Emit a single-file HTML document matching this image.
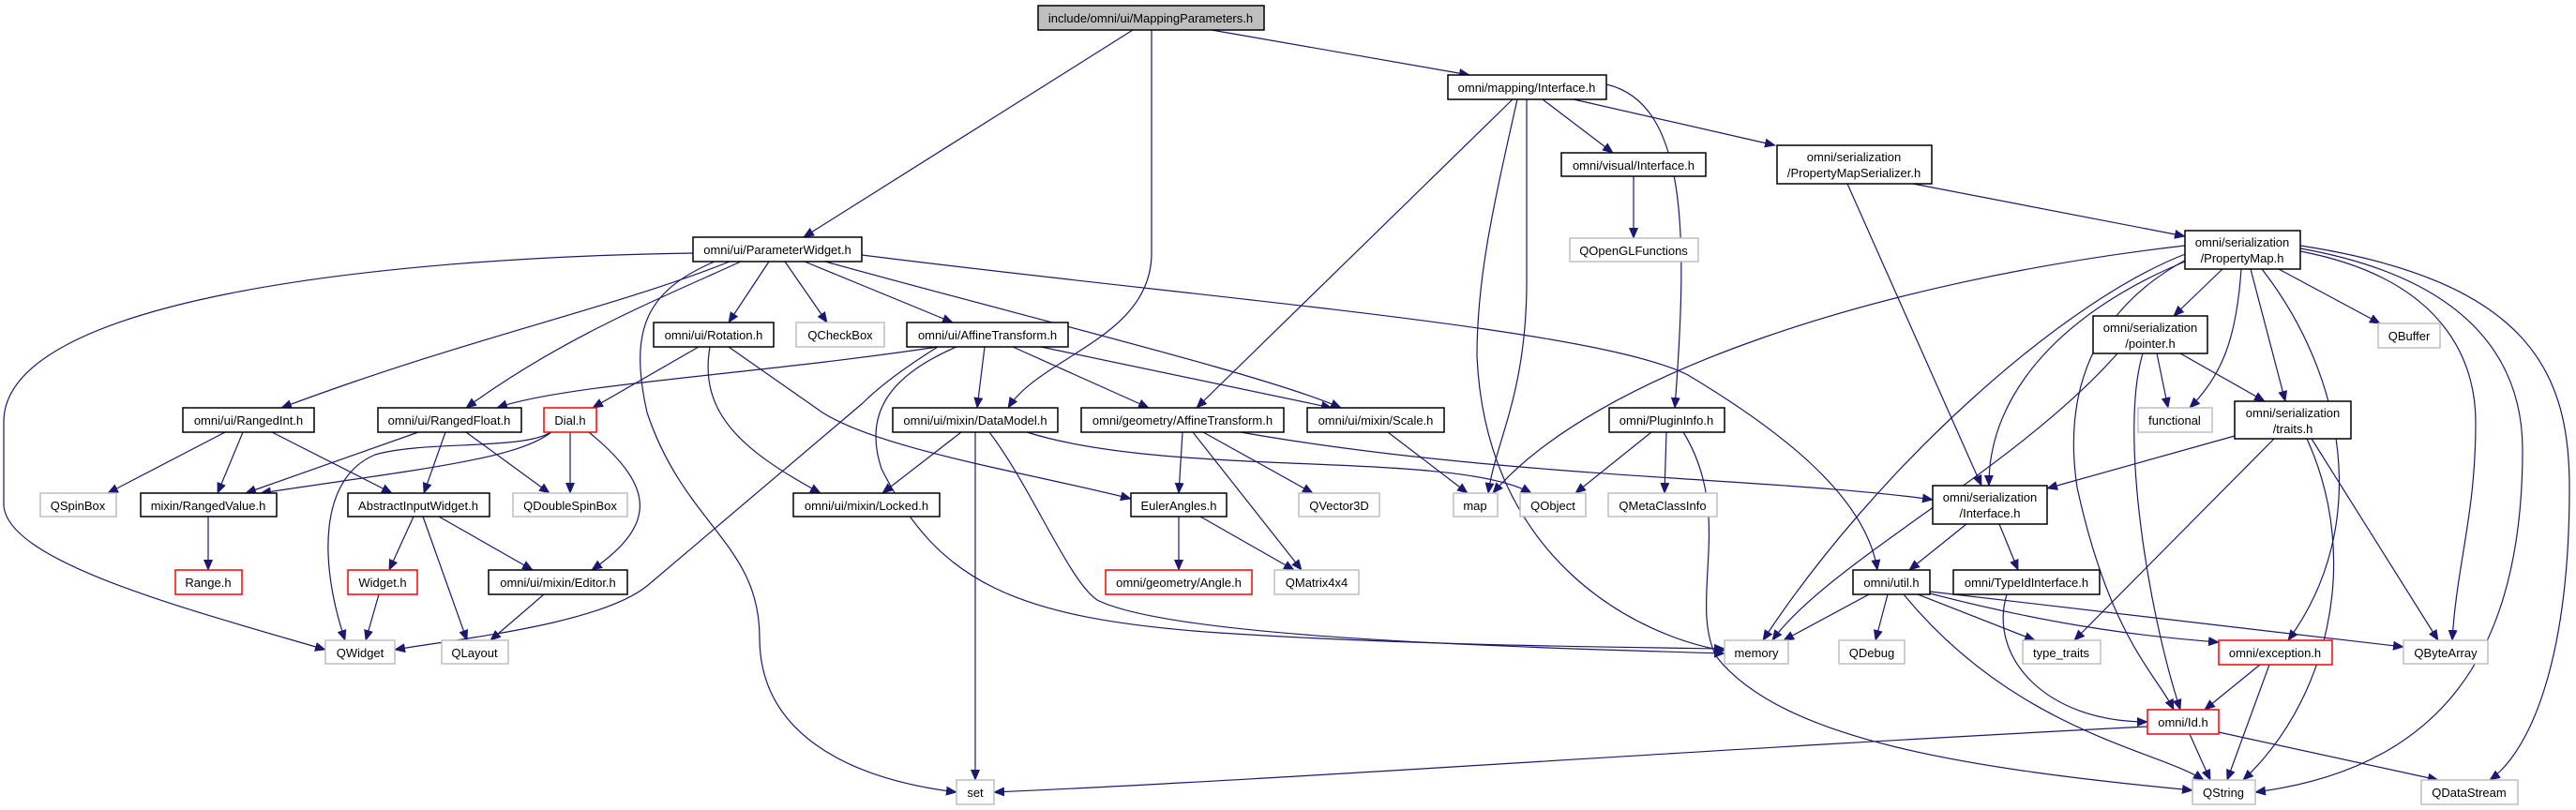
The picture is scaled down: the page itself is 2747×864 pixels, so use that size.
<!DOCTYPE html>
<html><head><meta charset="utf-8"><style>
html,body{margin:0;padding:0;background:#fff;}
svg{display:block;}
text{font-family:"Liberation Sans",sans-serif;font-size:13px;fill:#000;}
.e{fill:none;stroke:#191970;stroke-width:1.2;marker-end:url(#a);}
.n{fill:#fff;stroke:#000;stroke-width:1.5;}
.g{fill:#fff;stroke:#bfbfbf;stroke-width:1.5;}
.r{fill:#fff;stroke:#ff0000;stroke-width:1.5;}
</style></head><body>
<svg width="2747" height="864" viewBox="0 0 2747 864" xmlns="http://www.w3.org/2000/svg">
<defs><marker id="a" markerUnits="userSpaceOnUse" markerWidth="12" markerHeight="10" refX="11" refY="5" orient="auto"><path d="M0,0 L12,5 L0,10 z" fill="#191970"/></marker></defs>
<g>
<path class="e" d="M1208,32 L857,253"/>
<path class="e" d="M1228,32 L1228,270 C1228,360 1110,380 1075,435"/>
<path class="e" d="M1292,32 L1567,80"/>
<path class="e" d="M1613,106 L1276,435"/>
<path class="e" d="M1628,106 L1628,300 C1628,420 1595,470 1587,526"/>
<path class="e" d="M1618,106 C1590,230 1575,300 1575,380 C1585,600 1750,680 1839,694"/>
<path class="e" d="M1645,106 L1720,163"/>
<path class="e" d="M1678,106 L1893,155"/>
<path class="e" d="M1713,90 C1800,110 1800,250 1786,435"/>
<path class="e" d="M1742,188 L1742,254"/>
<path class="e" d="M1970,196 L2113,518"/>
<path class="e" d="M2040,196 L2330,252"/>
<path class="e" d="M739,270 C400,275 4,320 4,450 L4,540 C10,600 200,650 347,693"/>
<path class="e" d="M778,279 C650,330 500,360 300,435"/>
<path class="e" d="M790,279 C700,320 600,360 497,435"/>
<path class="e" d="M762,279 C690,310 670,350 690,440 C730,560 810,580 810,680 C810,780 900,830 1020,845"/>
<path class="e" d="M820,279 L777,344"/>
<path class="e" d="M837,279 L882,344"/>
<path class="e" d="M858,279 L1016,344"/>
<path class="e" d="M880,279 C1100,340 1350,400 1430,435"/>
<path class="e" d="M919,272 C1300,320 1700,350 1800,400 C1900,460 1990,530 2002,608"/>
<path class="e" d="M745,370 L632,435"/>
<path class="e" d="M757,370 C745,440 790,480 875,526"/>
<path class="e" d="M777,370 L877,440 C940,480 1100,505 1206,532"/>
<path class="e" d="M1000,370 C800,400 600,410 530,435"/>
<path class="e" d="M1000,370 C960,395 935,415 920,430 L690,625 C640,665 500,680 421,693"/>
<path class="e" d="M1050,370 L1042,435"/>
<path class="e" d="M1080,370 L1225,435"/>
<path class="e" d="M1110,370 L1420,435"/>
<path class="e" d="M1020,370 C950,400 920,440 940,500 C1000,620 1080,660 1300,675 C1500,688 1700,690 1839,692"/>
<path class="e" d="M1055,461 C1100,520 1140,620 1170,640 C1250,680 1600,690 1839,697"/>
<path class="e" d="M240,461 L115,526"/>
<path class="e" d="M259,461 L232,526"/>
<path class="e" d="M290,461 L418,526"/>
<path class="e" d="M446,461 L262,526"/>
<path class="e" d="M475,461 L452,526"/>
<path class="e" d="M497,461 L586,526"/>
<path class="e" d="M587,461 C560,480 450,470 400,485 C340,510 340,600 368,683"/>
<path class="e" d="M588,461 C550,490 450,500 278,526"/>
<path class="e" d="M608,461 L608,526"/>
<path class="e" d="M628,461 C700,520 700,560 631,608"/>
<path class="e" d="M222,551 L222,608"/>
<path class="e" d="M441,551 L415,608"/>
<path class="e" d="M451,551 L498,683"/>
<path class="e" d="M468,551 L568,608"/>
<path class="e" d="M404,634 L390,683"/>
<path class="e" d="M580,634 L523,683"/>
<path class="e" d="M1025,461 L941,526"/>
<path class="e" d="M1040,461 L1040,832"/>
<path class="e" d="M1095,461 C1250,510 1550,480 1633,526"/>
<path class="e" d="M1261,461 L1257,526"/>
<path class="e" d="M1272,461 L1388,608"/>
<path class="e" d="M1283,461 L1400,526"/>
<path class="e" d="M1323,461 C1600,510 1900,510 2061,533"/>
<path class="e" d="M1257,551 L1257,608"/>
<path class="e" d="M1280,551 L1380,608"/>
<path class="e" d="M1480,461 L1565,526"/>
<path class="e" d="M1761,461 L1680,526"/>
<path class="e" d="M1777,461 L1775,526"/>
<path class="e" d="M1795,461 C1850,550 1800,640 1830,700 C1900,790 2100,820 2338,843"/>
<path class="e" d="M2330,262 C2000,300 1700,400 1592,526"/>
<path class="e" d="M2333,270 C2200,320 2000,500 1880,683"/>
<path class="e" d="M2340,275 C2200,330 2120,420 2121,518"/>
<path class="e" d="M2370,287 L2318,337"/>
<path class="e" d="M2390,287 C2385,360 2370,400 2335,435"/>
<path class="e" d="M2400,287 L2437,428"/>
<path class="e" d="M2412,287 C2500,400 2530,560 2440,683"/>
<path class="e" d="M2430,287 L2538,345"/>
<path class="e" d="M2453,268 C2620,300 2640,400 2640,450 C2640,550 2620,600 2615,683"/>
<path class="e" d="M2453,265 C2650,300 2690,400 2690,480 C2690,700 2600,820 2405,845"/>
<path class="e" d="M2453,262 C2700,300 2740,400 2740,520 C2740,700 2700,800 2655,832"/>
<path class="e" d="M2335,275 C2230,330 2200,420 2215,520 C2250,680 2300,720 2318,757"/>
<path class="e" d="M2258,377 C2150,500 1950,600 1890,683"/>
<path class="e" d="M2300,377 L2312,435"/>
<path class="e" d="M2325,377 L2415,428"/>
<path class="e" d="M2285,377 C2260,460 2290,650 2325,757"/>
<path class="e" d="M2383,465 L2183,521"/>
<path class="e" d="M2425,468 L2212,683"/>
<path class="e" d="M2460,468 C2520,600 2480,750 2392,832"/>
<path class="e" d="M2465,468 L2600,683"/>
<path class="e" d="M2097,559 L2036,608"/>
<path class="e" d="M2132,559 L2152,608"/>
<path class="e" d="M2140,634 C2120,700 2180,770 2290,770"/>
<path class="e" d="M1993,634 L1902,683"/>
<path class="e" d="M2013,634 L2000,683"/>
<path class="e" d="M2045,634 L2170,683"/>
<path class="e" d="M2058,633 C2200,670 2300,680 2366,685"/>
<path class="e" d="M2058,631 L2563,690"/>
<path class="e" d="M2030,634 C2150,780 2300,800 2350,832"/>
<path class="e" d="M2410,709 L2351,757"/>
<path class="e" d="M2420,709 L2375,832"/>
<path class="e" d="M2335,783 L2357,832"/>
<path class="e" d="M2366,781 L2600,832"/>
<path class="e" d="M2290,775 C1800,800 1400,830 1060,845"/>
</g>
<g text-anchor="middle">
<rect x="1107" y="6" width="241" height="26" fill="#bfbfbf" stroke="#000" stroke-width="1.5"/><text x="1227" y="24">include/omni/ui/MappingParameters.h</text>
<rect class="n" x="739" y="253" width="180" height="26"/><text x="829" y="271">omni/ui/ParameterWidget.h</text>
<rect class="n" x="1544" y="80" width="169" height="26"/><text x="1628" y="98">omni/mapping/Interface.h</text>
<rect class="n" x="1665" y="163" width="154" height="25"/><text x="1742" y="181">omni/visual/Interface.h</text>
<rect class="n" x="1895" y="155" width="165" height="41"/><text x="1977" y="172">omni/serialization</text><text x="1977" y="189">/PropertyMapSerializer.h</text>
<rect class="g" x="1674" y="254" width="137" height="25"/><text x="1742" y="272">QOpenGLFunctions</text>
<rect class="n" x="2330" y="246" width="123" height="41"/><text x="2391" y="263">omni/serialization</text><text x="2391" y="280">/PropertyMap.h</text>
<rect class="n" x="697" y="344" width="128" height="26"/><text x="761" y="362">omni/ui/Rotation.h</text>
<rect class="g" x="849" y="344" width="94" height="26"/><text x="896" y="362">QCheckBox</text>
<rect class="n" x="967" y="344" width="172" height="26"/><text x="1053" y="362">omni/ui/AffineTransform.h</text>
<rect class="n" x="1716" y="435" width="123" height="26"/><text x="1777" y="453">omni/PluginInfo.h</text>
<rect class="n" x="2232" y="337" width="122" height="40"/><text x="2293" y="354">omni/serialization</text><text x="2293" y="371">/pointer.h</text>
<rect class="g" x="2536" y="345" width="66" height="26"/><text x="2569" y="363">QBuffer</text>
<rect class="n" x="195" y="435" width="140" height="26"/><text x="265" y="453">omni/ui/RangedInt.h</text>
<rect class="n" x="403" y="435" width="153" height="26"/><text x="479" y="453">omni/ui/RangedFloat.h</text>
<rect class="r" x="580" y="435" width="56" height="26"/><text x="608" y="453">Dial.h</text>
<rect class="n" x="952" y="435" width="176" height="26"/><text x="1040" y="453">omni/ui/mixin/DataModel.h</text>
<rect class="n" x="1153" y="435" width="216" height="26"/><text x="1261" y="453">omni/geometry/AffineTransform.h</text>
<rect class="n" x="1394" y="435" width="146" height="26"/><text x="1467" y="453">omni/ui/mixin/Scale.h</text>
<rect class="g" x="2280" y="435" width="79" height="26"/><text x="2319" y="453">functional</text>
<rect class="n" x="2383" y="428" width="124" height="40"/><text x="2445" y="445">omni/serialization</text><text x="2445" y="462">/traits.h</text>
<rect class="g" x="43" y="526" width="81" height="25"/><text x="83" y="544">QSpinBox</text>
<rect class="n" x="150" y="526" width="145" height="25"/><text x="222" y="544">mixin/RangedValue.h</text>
<rect class="n" x="371" y="526" width="151" height="25"/><text x="446" y="544">AbstractInputWidget.h</text>
<rect class="g" x="547" y="526" width="122" height="25"/><text x="608" y="544">QDoubleSpinBox</text>
<rect class="n" x="846" y="526" width="156" height="25"/><text x="924" y="544">omni/ui/mixin/Locked.h</text>
<rect class="n" x="1206" y="526" width="102" height="25"/><text x="1257" y="544">EulerAngles.h</text>
<rect class="g" x="1385" y="526" width="86" height="25"/><text x="1428" y="544">QVector3D</text>
<rect class="g" x="1550" y="526" width="47" height="25"/><text x="1573" y="544">map</text>
<rect class="g" x="1621" y="526" width="70" height="25"/><text x="1656" y="544">QObject</text>
<rect class="g" x="1715" y="526" width="116" height="25"/><text x="1773" y="544">QMetaClassInfo</text>
<rect class="n" x="2061" y="518" width="122" height="41"/><text x="2122" y="535">omni/serialization</text><text x="2122" y="552">/Interface.h</text>
<rect class="r" x="187" y="608" width="71" height="26"/><text x="222" y="626">Range.h</text>
<rect class="r" x="371" y="608" width="74" height="26"/><text x="408" y="626">Widget.h</text>
<rect class="n" x="521" y="608" width="148" height="26"/><text x="595" y="626">omni/ui/mixin/Editor.h</text>
<rect class="r" x="1179" y="608" width="156" height="26"/><text x="1257" y="626">omni/geometry/Angle.h</text>
<rect class="g" x="1359" y="608" width="90" height="26"/><text x="1404" y="626">QMatrix4x4</text>
<rect class="n" x="1976" y="608" width="82" height="26"/><text x="2017" y="626">omni/util.h</text>
<rect class="n" x="2083" y="608" width="156" height="26"/><text x="2161" y="626">omni/TypeIdInterface.h</text>
<rect class="g" x="347" y="683" width="74" height="25"/><text x="384" y="701">QWidget</text>
<rect class="g" x="471" y="683" width="71" height="25"/><text x="506" y="701">QLayout</text>
<rect class="g" x="1839" y="683" width="68" height="25"/><text x="1873" y="701">memory</text>
<rect class="g" x="1961" y="683" width="70" height="25"/><text x="1996" y="701">QDebug</text>
<rect class="g" x="2157" y="683" width="83" height="25"/><text x="2198" y="701">type_traits</text>
<rect class="r" x="2366" y="683" width="121" height="26"/><text x="2426" y="701">omni/exception.h</text>
<rect class="g" x="2563" y="683" width="90" height="25"/><text x="2608" y="701">QByteArray</text>
<rect class="r" x="2290" y="757" width="76" height="26"/><text x="2328" y="775">omni/Id.h</text>
<rect class="g" x="1020" y="832" width="40" height="26"/><text x="1040" y="850">set</text>
<rect class="g" x="2338" y="832" width="67" height="26"/><text x="2371" y="850">QString</text>
<rect class="g" x="2582" y="832" width="103" height="26"/><text x="2633" y="850">QDataStream</text>
</g>
</svg>
</body></html>
